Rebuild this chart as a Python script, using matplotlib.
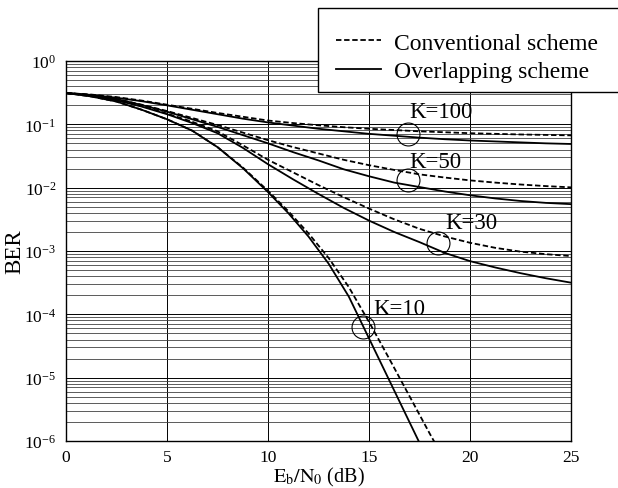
import numpy as np
import matplotlib
matplotlib.use("Agg")
import matplotlib.pyplot as plt
from matplotlib.patches import Rectangle
from matplotlib.ticker import LogLocator, NullFormatter

plt.rcParams['font.family'] = ['Liberation Serif', 'DejaVu Serif']
plt.rcParams['mathtext.fontset'] = 'stix'

# Eb/N0 grid (dB)
snr = [0, 1.25, 2.5, 3.75, 5, 6.25, 7.5, 8.75, 10, 11.25, 12.5,
       13.75, 15, 16.25, 17.5, 18.75, 20, 21.25, 22.5, 23.75, 25]

# log10(BER); conventional = dashed, overlapping = solid
conv_k100 = [-0.505, -0.53, -0.57, -0.625, -0.69, -0.755, -0.82, -0.88, -0.94, -0.98, -1.015,
             -1.045, -1.07, -1.09, -1.11, -1.125, -1.14, -1.15, -1.16, -1.167, -1.174]
over_k100 = [-0.505, -0.535, -0.58, -0.635, -0.70, -0.77, -0.84, -0.91, -0.97, -1.02, -1.07,
             -1.11, -1.15, -1.18, -1.21, -1.235, -1.255, -1.27, -1.285, -1.30, -1.31]
conv_k50 = [-0.505, -0.54, -0.60, -0.69, -0.79, -0.90, -1.01, -1.13, -1.25, -1.36, -1.46,
            -1.56, -1.645, -1.72, -1.79, -1.84, -1.885, -1.92, -1.95, -1.975, -1.995]
over_k50 = [-0.505, -0.54, -0.60, -0.695, -0.80, -0.92, -1.04, -1.17, -1.30, -1.44, -1.57,
            -1.71, -1.82, -1.92, -1.99, -2.06, -2.12, -2.17, -2.21, -2.24, -2.26]
conv_k30 = [-0.505, -0.545, -0.61, -0.71, -0.83, -0.96, -1.11, -1.33, -1.56, -1.76, -1.96,
            -2.15, -2.33, -2.50, -2.65, -2.77, -2.87, -2.95, -3.01, -3.05, -3.08]
over_k30 = [-0.505, -0.545, -0.62, -0.72, -0.84, -0.98, -1.14, -1.37, -1.63, -1.87, -2.10,
            -2.32, -2.52, -2.70, -2.86, -3.03, -3.16, -3.26, -3.35, -3.43, -3.50]

# K=10 waterfall
snr_k10 = [0, 1.25, 2.5, 3.75, 5, 6.25, 7.5, 8.75, 10, 11, 12, 13, 14, 15, 16, 17, 18, 19]
conv_k10 = [-0.505, -0.56, -0.64, -0.77, -0.92, -1.10, -1.36, -1.68, -2.05, -2.37, -2.72,
            -3.11, -3.57, -4.12, -4.70, -5.29, -5.88, -6.45]
over_k10 = [-0.505, -0.56, -0.64, -0.77, -0.92, -1.10, -1.36, -1.69, -2.07, -2.40, -2.77,
            -3.20, -3.72, -4.38, -5.04, -5.70, -6.36, -7.00]

# circle marks and labels
circ_x = [16.95, 16.95, 18.42, 14.7]
circ_y = [0.0703, 0.0132, 1.34e-3, 6.3e-5]
lab_text = ["K=100", "K=50", "K=30", "K=10"]
lab_x = [17.0, 17.0, 18.8, 15.2]
lab_y = [0.160, 0.026, 2.8e-3, 1.25e-4]

fig = plt.figure(figsize=(6.18, 4.89), dpi=100)
ax = fig.add_axes([0.1068, 0.0961, 0.8172, 0.7771])

dash = (0, (3.0, 1.5))
lw = 1.3
for c, o in [(conv_k100, over_k100), (conv_k50, over_k50), (conv_k30, over_k30)]:
    ax.plot(snr, 10.0 ** np.array(c), color='black', lw=lw, linestyle=dash)
    ax.plot(snr, 10.0 ** np.array(o), color='black', lw=lw)
ax.plot(snr_k10, 10.0 ** np.array(conv_k10), color='black', lw=lw, linestyle=dash)
ax.plot(snr_k10, 10.0 ** np.array(over_k10), color='black', lw=lw)

ax.plot(circ_x, circ_y, 'o', mfc='none', mec='black', mew=0.8, ms=16.5, linestyle='none')
for t, x, y in zip(lab_text, lab_x, lab_y):
    ax.text(x, y, t, fontsize=16.5, va='center', ha='left')

ax.set_yscale('log')
ax.set_xlim(0, 25)
ax.set_ylim(1e-6, 1)
ax.set_xticks([0, 5, 10, 15, 20, 25])
ax.yaxis.set_major_locator(LogLocator(base=10, numticks=10))
ax.yaxis.set_minor_locator(LogLocator(base=10, subs=np.arange(2, 10), numticks=20))
ax.yaxis.set_minor_formatter(NullFormatter())
ax.grid(True, which='major', color='black', lw=0.7)
ax.grid(True, which='minor', axis='y', color='0.25', lw=0.6)
ax.tick_params(which='both', length=0, labelsize=12.5, pad=6)
ax.tick_params(axis='y', pad=7)
for s in ax.spines.values():
    s.set_linewidth(1.0)

ax.set_xlabel(r'$\mathrm{E_b/N_0}$ (dB)', fontsize=14.5, labelpad=0)
ax.set_ylabel('BER', fontsize=16.5)
ax.yaxis.set_label_coords(-0.08, 0.5)

# legend: frame drawn separately (taller top margin than the default box)
fig.patches.append(Rectangle((318 / 618, 1 - 93 / 489), 310 / 618, 84 / 489,
                             transform=fig.transFigure, fill=True, facecolor='white',
                             edgecolor='black', lw=1.0, zorder=5))
h1, = ax.plot([], [], color='black', lw=lw, linestyle=dash)
h2, = ax.plot([], [], color='black', lw=lw)
leg = fig.legend([h1, h2], ["Conventional scheme", "Overlapping scheme"],
                 loc='upper left', bbox_to_anchor=(318 / 618, 1 - 33 / 489),
                 fontsize=17, frameon=False, handlelength=1.9, handletextpad=0.55,
                 borderpad=0.0, labelspacing=0.3, borderaxespad=0)
leg.set_zorder(6)
fig.canvas.draw()
bb = leg.get_window_extent()
dx = (336 - bb.x0) / 618
leg.set_bbox_to_anchor((318 / 618 + dx, 1 - 33 / 489), transform=fig.transFigure)

fig.savefig('out.png', dpi=100)
